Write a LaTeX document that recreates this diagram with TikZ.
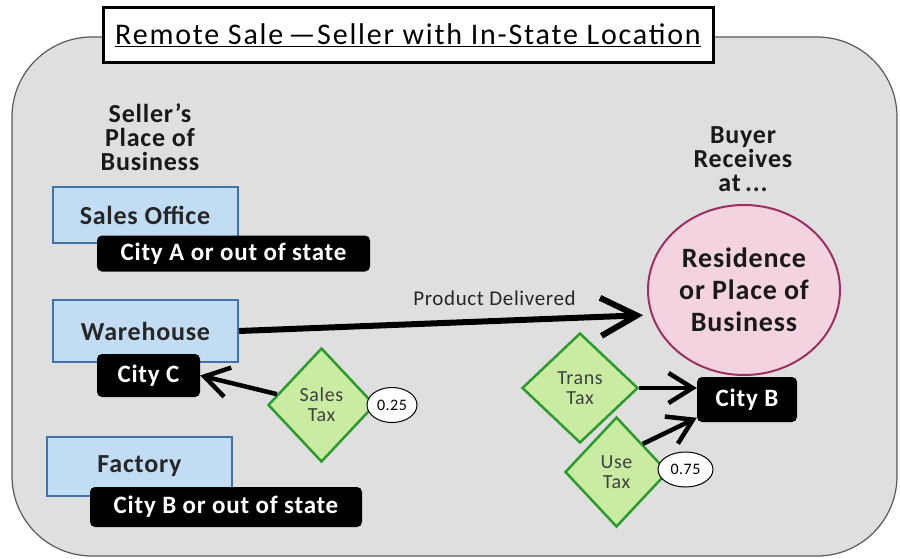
\documentclass[tikz,border=0pt]{standalone}
\usepackage{fontspec}
\setmainfont[LetterSpace=3]{Carlito}
\usetikzlibrary{shapes.geometric,arrows.meta,positioning}
\definecolor{panelgray}{HTML}{DFDFDF}
\definecolor{officeblue}{HTML}{C2DCF3}
\definecolor{officeedge}{HTML}{4272AC}
\definecolor{taxgreen}{HTML}{C9ECA2}
\definecolor{taxedge}{HTML}{2C9A2C}
\definecolor{buyerpink}{HTML}{F4D3E1}
\definecolor{buyeredge}{HTML}{9E2E62}
\tikzset{
  office/.style={draw=officeedge, line width=2pt, fill=officeblue, minimum width=185pt,
    font=\fontsize{26}{28}\selectfont\bfseries, text=black!85},
  city/.style={fill=black, text=white, rounded corners=5pt, inner xsep=0pt,
    font=\fontsize{25}{26}\selectfont\bfseries},
  tax/.style={diamond, draw=taxedge, line width=2.5pt, fill=taxgreen, inner sep=0pt,
    align=center, text=black!75, font=\fontsize{20}{20}\selectfont},
  share/.style={ellipse, draw, fill=white, line width=1pt, inner sep=0pt,
    minimum height=35pt, font=\fontsize{16}{16}\selectfont},
  heading/.style={align=center, text=black!90, font=\fontsize{26}{24}\selectfont\bfseries},
  flow/.style={line width=6pt, -{Straight Barb[length=36pt,width=38pt]}},
  taxflow/.style={line width=4.5pt, -{Straight Barb[length=24pt,width=30pt]}}
}
\begin{document}
\begin{tikzpicture}[x=1pt,y=-1pt]
\useasboundingbox (0,0) rectangle (900,559);
\def\panel{(12,37) rectangle (897,556)}

\draw[draw=black!65, line width=1.2pt, fill=panelgray, rounded corners=80pt] \panel;

\node[draw, line width=3pt, fill=white, minimum width=610pt, minimum height=55pt,
  font=\fontsize{30}{30}\selectfont\addfontfeatures{LetterSpace=6}] (title) at (408,35.5) {\underline{Remote Sale\,---Seller with In-State Location}};

%seller side
\node[heading] (seller) at (150,137) {Seller's\\Place of\\Business};
\node[office, minimum height=56pt] (salesoffice) at (145,215) {Sales Office};
\node[city, minimum width=273pt, minimum height=36pt] (cityA) at (233.5,253.5) {City A or out of state};
\node[office, minimum height=62pt] (warehouse) at (145.5,331) {Warehouse};
\node[city, minimum width=103pt, minimum height=43pt] (cityC) at (148.5,375.5) {City C};
\node[office, minimum height=59pt] (factory) at (139.5,466.5) {Factory};
\node[city, minimum width=272pt, minimum height=40pt] (cityBout) at (226,507) {City B or out of state};

\node[tax, minimum width=107pt, minimum height=114pt] (salestax) at (321.5,405) {Sales\\Tax};
\node[share, minimum width=50pt] (share25) at (392,405) {0.25};

%buyer side
\node[heading] (buyer) at (743,159) {Buyer\\Receives\\at\,...};
\node[ellipse, draw=buyeredge, line width=2pt, fill=buyerpink, inner sep=0pt,
  minimum width=192pt, minimum height=170pt, align=center, text=black!90,
  font=\fontsize{28}{32}\selectfont\bfseries] (residence) at (744,290) {Residence\\or Place of\\Business};
\node[city, minimum width=100pt, minimum height=45pt] (cityB) at (747,399.5) {City B};

\node[tax, minimum width=116pt, minimum height=110pt] (transtax) at (580,388) {Trans\\Tax};
\node[tax, minimum width=103pt, minimum height=110pt] (usetax) at (616.5,472) {Use\\Tax};
\node[share, minimum width=55pt] (share75) at (685.5,469.5) {0.75};

\draw[flow, shorten >=8pt] (warehouse.east) -- (residence.195)
  node[pos=0.62, above=9pt, font=\fontsize{21}{21}\selectfont, text=black!85] (delivered) {Product Delivered};
\draw[taxflow] (salestax) -- (cityC.east);
\draw[taxflow] (transtax.east) -- (cityB.west |- transtax.east);
\draw[taxflow] (usetax.north east) -- (cityB.200);
\end{tikzpicture}
\end{document}
